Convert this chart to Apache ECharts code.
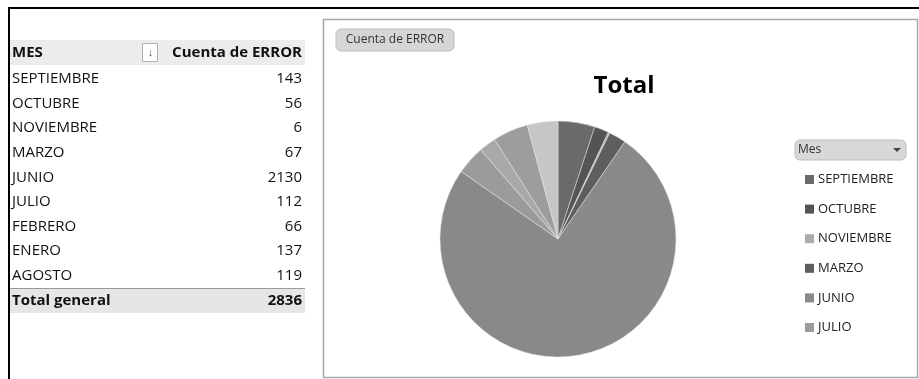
<!DOCTYPE html>
<html><head><meta charset="utf-8">
<script src="https://cdn.jsdelivr.net/npm/echarts@6/dist/echarts.min.js"></script>
<style>html,body{margin:0;padding:0;background:#fff;}#c{width:919px;height:379px;}</style>
</head><body><div id="c"></div>
<script>
const months = ['SEPTIEMBRE','OCTUBRE','NOVIEMBRE','MARZO','JUNIO','JULIO','FEBRERO','ENERO','AGOSTO'];
const counts = [143,56,6,67,2130,112,66,137,119];
const sliceColors = ['#6a6a6a','#545454','#acacac','#5e5e5e','#898989','#9b9b9b','#a9a9a9','#9d9d9d','#c6c6c6'];
const legendShown = ['SEPTIEMBRE','OCTUBRE','NOVIEMBRE','MARZO','JUNIO','JULIO'];
const headerMes = 'MES';
const headerCount = 'Cuenta de ERROR';
const totalLabel = 'Total general';
const totalValue = 2836;

const FONT = 'Open Sans';
const TF = '15px "'+FONT+'"';
const TFB = 'bold 15px "'+FONT+'"';
const g = [];
// outer black frame
g.push({type:'rect', shape:{x:8,y:7,width:911,height:2}, style:{fill:'#000'}});
g.push({type:'rect', shape:{x:8,y:7,width:2,height:372}, style:{fill:'#000'}});
// header bg
g.push({type:'rect', shape:{x:10,y:40,width:295,height:25}, style:{fill:'#ececec'}});
g.push({type:'text', style:{x:12,y:53,text:headerMes,font:TFB,fill:'#111',verticalAlign:'middle'}});
g.push({type:'rect', shape:{x:142.5,y:43.5,width:15,height:18}, style:{fill:'#fff',stroke:'#b0b0b0',lineWidth:1}});
g.push({type:'text', style:{x:150.5,y:53,text:'↓',font:'11px "'+FONT+'"',fill:'#555',align:'center',verticalAlign:'middle'}});
g.push({type:'text', style:{x:302,y:53,text:headerCount,font:TFB,fill:'#111',align:'right',verticalAlign:'middle'}});
months.forEach((m,i)=>{
  const y = 79 + i*24.6;
  g.push({type:'text', style:{x:12,y:y,text:m,font:TF,fill:'#111',verticalAlign:'middle'}});
  g.push({type:'text', style:{x:302,y:y,text:String(counts[i]),font:TF,fill:'#111',align:'right',verticalAlign:'middle'}});
});
g.push({type:'rect', shape:{x:10,y:288,width:295,height:25}, style:{fill:'#e6e6e6'}});
g.push({type:'rect', shape:{x:10,y:288,width:295,height:1}, style:{fill:'#9a9a9a'}});
g.push({type:'text', style:{x:12,y:301,text:totalLabel,font:TFB,fill:'#111',verticalAlign:'middle'}});
g.push({type:'text', style:{x:302,y:301,text:String(totalValue),font:TFB,fill:'#111',align:'right',verticalAlign:'middle'}});
// chart box
g.push({type:'rect', shape:{x:323.5,y:19.5,width:594,height:358}, style:{fill:'none',stroke:'#a8a8a8',lineWidth:1.5}});
// buttons
g.push({type:'rect', shape:{x:336,y:29,width:118,height:22,r:5}, style:{fill:'#d6d6d6',stroke:'#bdbdbd',lineWidth:1}});
g.push({type:'text', style:{x:395,y:40,text:'Cuenta de ERROR',font:'12px "'+FONT+'"',fill:'#333',align:'center',verticalAlign:'middle'}});
g.push({type:'rect', shape:{x:795,y:140,width:111,height:20,r:5}, style:{fill:'#d8d8d8',stroke:'#bdbdbd',lineWidth:1}});
g.push({type:'text', style:{x:798,y:150,text:'Mes',font:'12px "'+FONT+'"',fill:'#333',verticalAlign:'middle'}});
g.push({type:'polygon', shape:{points:[[893,148],[901,148],[897,152]]}, style:{fill:'#444'}});

const chart = echarts.init(document.getElementById('c'));
chart.setOption({
  animation:false,
  title:{text:'Total', left:619, top:69, textAlign:'center', textStyle:{fontFamily:FONT,fontWeight:'bold',fontSize:24,color:'#000'}},
  graphic: g,
  legend:{
    data: legendShown, orient:'vertical', left:800, top:168, itemGap:16.6,
    icon:'rect', itemWidth:9, itemHeight:9,
    textStyle:{fontFamily:FONT,fontSize:13,color:'#222',padding:[0,0,0,-1]}, itemStyle:{borderWidth:0}
  },
  series:[{
    type:'pie', center:[558,239], radius:118, startAngle:90, clockwise:true,
    label:{show:false}, labelLine:{show:false}, silent:true,
    itemStyle:{borderColor:'#e4e4e4', borderWidth:0.5},
    data: months.map((m,i)=>({name:m, value:counts[i], itemStyle:{color:sliceColors[i]}}))
  }]
});
</script></body></html>
